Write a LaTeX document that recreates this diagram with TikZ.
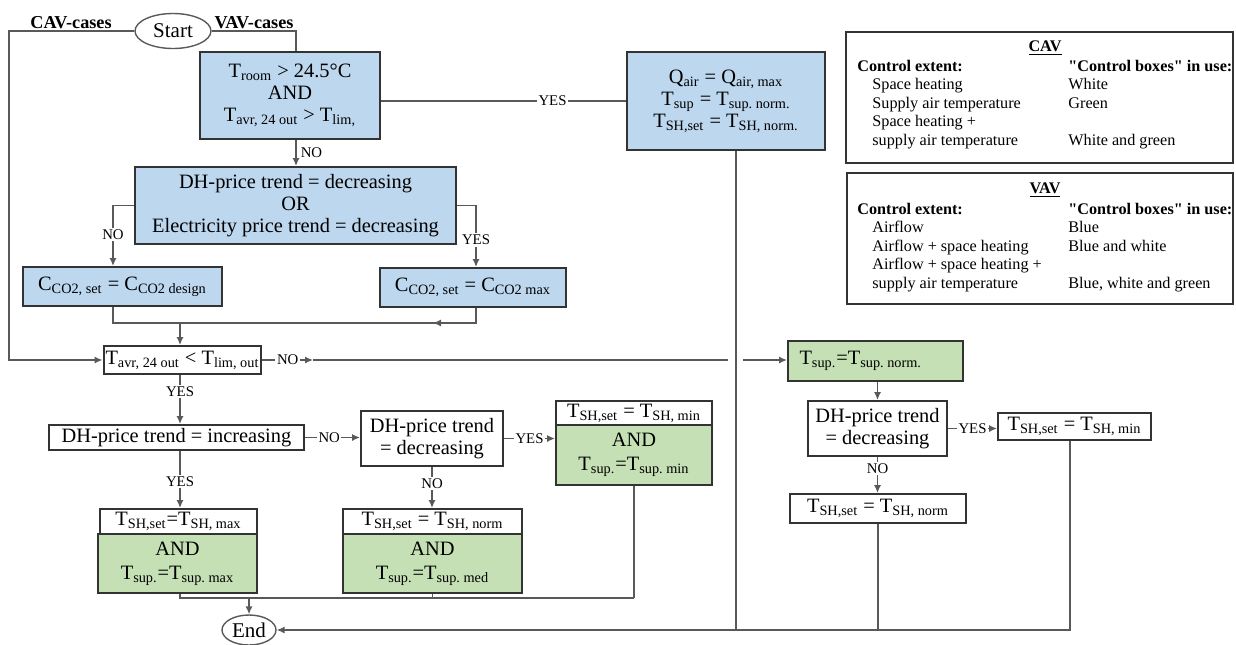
\documentclass[tikz,border=0pt]{standalone}
\usepackage{fontspec}
\setmainfont{Liberation Serif}[Ligatures=TeXOff]
\usepackage{tikz}
\usetikzlibrary{positioning,arrows.meta,shapes.geometric,calc}
\definecolor{boxblue}{HTML}{BDD7EE}
\definecolor{boxgreen}{HTML}{C5E0B4}
\definecolor{linegray}{HTML}{595959}
\definecolor{edgegray}{HTML}{333333}
\newcommand{\lo}[1]{\textsubscript{#1}}
\newcommand{\mainsize}{\fontsize{10.2}{11}\selectfont}
\newcommand{\legsize}{\fontsize{8.1}{9.25}\selectfont}
\frenchspacing

\tikzset{
  ctrl/.style={draw=edgegray,line width=1pt,align=center,inner sep=1pt,font=\mainsize},
  blu/.style={ctrl,fill=boxblue},
  grn/.style={ctrl,fill=boxgreen},
  wht/.style={ctrl,fill=white},
  boxsz/.style 2 args={minimum width=#1*0.5pt,minimum height=#2*0.5pt},
  term/.style={ellipse,draw=linegray,line width=0.7pt,inner sep=0pt,font=\fontsize{10.5}{12}\selectfont},
  conn/.style={draw=linegray,line width=0.75pt},
  arr/.style={conn,-{Latex[length=4pt,width=3.6pt]}},
  lbl/.style={fill=white,inner sep=0.8pt,font=\fontsize{7.4}{8}\selectfont},
  cases/.style={font=\fontsize{9.1}{10}\selectfont\bfseries},
  legend/.style={draw=edgegray,line width=1pt},
}

\begin{document}
\begin{tikzpicture}[x=0.5pt,y=-0.5pt]
  \useasboundingbox (0,0) rectangle (1236,644);

  % start / end
  \node[term,minimum width=38pt,minimum height=17.5pt] (start) at (173,31) {Start};
  \node[term,minimum width=27pt,minimum height=15pt] (end) at (249,630) {End};
  \node[cases] (cavlbl) at (71,23) {CAV-cases};
  \node[cases] (vavlbl) at (254,23) {VAV-cases};

  % VAV part
  \node[blu,boxsz={180}{87}] (troom) at (290,95.5) {T\lo{room} > 24.5°C\\AND\\T\lo{avr, 24 out} > T\lo{lim,}};
  \node[blu,boxsz={198}{98}] (qair) at (726,101) {Q\lo{air} = Q\lo{air, max}\\T\lo{sup} = T\lo{sup. norm.}\\T\lo{SH,set} = T\lo{SH, norm.}};
  \node[blu,boxsz={321}{77}] (dhor) at (295.5,205.5) {DH-price trend = decreasing\\OR\\Electricity price trend = decreasing};
  \node[blu,boxsz={199}{39}] (co2d) at (122.5,286.5) {C\lo{CO2, set} = C\lo{CO2 design}};
  \node[blu,boxsz={186}{39}] (co2m) at (473,287.5) {C\lo{CO2, set} = C\lo{CO2 max}};

  % CAV / common part
  \node[wht,boxsz={155}{28}] (tavr) at (182.5,360) {T\lo{avr, 24 out} < T\lo{lim, out}};
  \node[wht,boxsz={255}{25}] (dhinc) at (176.5,437.5) {DH-price trend = increasing};
  \node[wht,boxsz={142}{55}] (dhdec) at (432,438.5) {DH-price trend\\= decreasing};
  \node[wht,boxsz={157}{25}] (tshmaxw) at (178.5,521.5) {T\lo{SH,set}=T\lo{SH, max}};
  \node[grn,boxsz={159}{59}] (tshmaxg) at (177.5,563.5) {AND\\[1pt]T\lo{sup.}=T\lo{sup. max}};
  \node[wht,boxsz={179}{25}] (tshnormw) at (432.5,521.5) {T\lo{SH,set} = T\lo{SH, norm}};
  \node[grn,boxsz={179}{59}] (tshnormg) at (432.5,563.5) {AND\\[1pt]T\lo{sup.}=T\lo{sup. med}};
  \node[wht,boxsz={156}{24}] (tshminw) at (634,413) {T\lo{SH,set} = T\lo{SH, min}};
  \node[grn,boxsz={156}{60}] (tshming) at (634,455) {AND\\[1pt]T\lo{sup.}=T\lo{sup. min}};

  % right part
  \node[grn,boxsz={175}{40}] (tsupn) at (875.5,361) {\makebox[76pt][l]{T\lo{sup.}=T\lo{sup. norm.}}};
  \node[wht,boxsz={139}{55}] (dhdec2) at (877.5,428.5) {DH-price trend\\= decreasing};
  \node[wht,boxsz={153}{27}] (tshmin2) at (1074.5,426.5) {T\lo{SH,set} = T\lo{SH, min}};
  \node[wht,boxsz={176}{29}] (tshnorm2) at (878,508.5) {T\lo{SH,set} = T\lo{SH, norm}};

  % legends
  \node[legend,minimum width=193.5pt,minimum height=65.5pt] (cavbox) at (1039.5,97.5) {};
  \node[font=\legsize\bfseries] (cavttl) at (1045,48) {\underline{CAV}};
  \node[anchor=north west,inner sep=0pt,font=\legsize] (cavtab) at (857,58) {%
    \begin{tabular}{@{}p{105.5pt}@{}l@{}}
      \textbf{Control extent:} & \textbf{"Control boxes" in use:}\\
      \hspace*{7.5pt}Space heating & White\\
      \hspace*{7.5pt}Supply air temperature & Green\\
      \hspace*{7.5pt}Space heating + & \\
      \hspace*{7.5pt}supply air temperature & White and green
    \end{tabular}};
  \node[legend,minimum width=193pt,minimum height=65.5pt] (vavbox) at (1040,238.5) {};
  \node[font=\legsize\bfseries] (vavttl) at (1045,190) {\underline{VAV}};
  \node[anchor=north west,inner sep=0pt,font=\legsize] (vavtab) at (857,201) {%
    \begin{tabular}{@{}p{105.5pt}@{}l@{}}
      \textbf{Control extent:} & \textbf{"Control boxes" in use:}\\
      \hspace*{7.5pt}Airflow & Blue\\
      \hspace*{7.5pt}Airflow + space heating & Blue and white\\
      \hspace*{7.5pt}Airflow + space heating + & \\
      \hspace*{7.5pt}supply air temperature & Blue, white and green
    \end{tabular}};

  % connectors from start
  \coordinate (cavx) at (9,31);
  \coordinate (vavx) at (296,31);
  \draw[arr] (start.west) -- (cavx) |- (tavr.west);
  \draw[conn] (start.east) -- (vavx) -- (vavx |- troom.north);
  \draw[arr] (troom.south -| vavx) -- node[right,font=\fontsize{7.4}{8}\selectfont,inner sep=2pt]{NO} (dhor.north -| vavx);
  \draw[conn] (troom.east |- qair.west) -- node[lbl,pos=0.7]{YES} (qair.west);

  % CO2 branches
  \coordinate (nox) at (113,0);
  \coordinate (yesx) at (476,0);
  \coordinate (merge) at (180,323);
  \coordinate (mergetip) at (433,323);
  \draw[arr] (dhor.west) -| node[lbl,pos=0.74]{NO} (co2d.north -| nox);
  \draw[arr] (dhor.east) -| node[lbl,pos=0.78]{YES} (co2m.north -| yesx);
  \draw[conn] (co2d.south -| nox) |- (merge);
  \draw[conn] (co2m.south -| yesx) |- (merge);
  \draw[arr] (yesx |- merge) -- (mergetip);
  \draw[arr] (merge) -- (merge |- tavr.north);

  % outdoor temperature NO branch, hopping over the VAV line
  \coordinate (notip) at (313,360);
  \coordinate (hopl) at (728,360);
  \coordinate (hopr) at (743,360);
  \draw[arr] (tavr.east) -- node[lbl]{NO} (notip);
  \draw[conn] (notip) -- (hopl);
  \draw[arr] (hopr) -- (hopr -| tsupn.west);

  % price trend tree
  \coordinate (lx) at (180,0);
  \draw[arr] (tavr.south -| lx) -- node[lbl,pos=0.33]{YES} (dhinc.north -| lx);
  \draw[arr] (dhinc.east) -- node[lbl,pos=0.44]{NO} (dhinc.east -| dhdec.west);
  \draw[arr] (dhinc.south -| lx) -- node[lbl,pos=0.54]{YES} (tshmaxw.north -| lx);
  \draw[arr] (dhdec.east) -- node[lbl]{YES} (dhdec.east -| tshming.west);
  \draw[arr] (dhdec.south) -- node[lbl,pos=0.4]{NO} (dhdec.south |- tshnormw.north);

  % to end
  \coordinate (bot) at (634,598);
  \draw[conn] (tshmaxg.south -| lx) |- (bot);
  \draw[conn] (tshnormg.south) -- (tshnormg.south |- bot);
  \draw[conn] (tshming.south) -- (bot);
  \draw[arr] (end.north |- bot) -- (end.north);

  % right tree
  \coordinate (qx) at (736,0);
  \coordinate (rend) at (1070,630);
  \draw[arr] (tsupn.south -| dhdec2.north) -- (dhdec2.north);
  \draw[arr] (dhdec2.east) -- node[lbl]{YES} (dhdec2.east -| tshmin2.west);
  \draw[arr] (dhdec2.south) -- node[lbl,pos=0.32]{NO} (dhdec2.south |- tshnorm2.north);
  \draw[conn] (tshnorm2.south) -- (tshnorm2.south |- rend);
  \draw[conn] (qair.south -| qx) -- (qx |- rend);
  \draw[arr] (tshmin2.south -| rend) -- (rend) -- (end.east);
\end{tikzpicture}
\end{document}
